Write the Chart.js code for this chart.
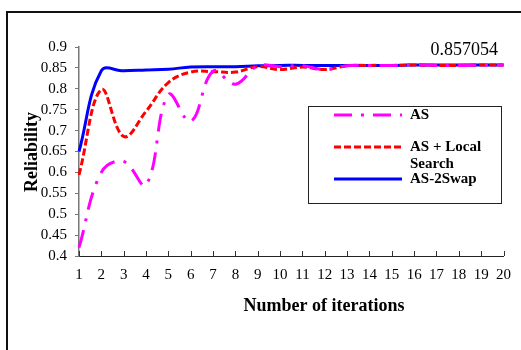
<!DOCTYPE html>
<html>
<head>
<meta charset="utf-8">
<script src="https://cdn.jsdelivr.net/npm/chart.js@4/dist/chart.umd.min.js"></script>
<style>
html,body{margin:0;padding:0;background:#fff;}
#wrap{width:521px;height:350px;position:relative;}
</style>
</head>
<body>
<div id="wrap"><canvas id="c" width="521" height="350"></canvas></div>
<script>
const iterations = ['1','2','3','4','5','6','7','8','9','10','11','12','13','14','15','16','17','18','19','20'];
const asValues = [0.42,0.60,0.626,0.57,0.786,0.722,0.842,0.811,0.855,0.853,0.855,0.846,0.855,0.856,0.856,0.858,0.856,0.856,0.857,0.857];
const asLocalValues = [0.594,0.798,0.686,0.746,0.815,0.840,0.841,0.840,0.853,0.846,0.852,0.846,0.855,0.856,0.856,0.857,0.856,0.856,0.857,0.857];
const as2SwapValues = [0.65,0.843,0.843,0.845,0.847,0.852,0.853,0.853,0.855,0.856,0.856,0.856,0.856,0.856,0.856,0.857,0.857,0.857,0.857,0.857054];
const seriesNames = ['AS','AS + Local Search','AS-2Swap'];
const finalLabel = '0.857054';
const xTitle = 'Number of iterations';
const yTitle = 'Reliability';

const SERIF = '"Liberation Serif", "Times New Roman", serif';

const decor = {
  id: 'decor',
  beforeDraw(chart) {
    const ctx = chart.ctx;
    ctx.save();
    ctx.fillStyle = '#fff';
    ctx.fillRect(0, 0, chart.width, chart.height);
    ctx.restore();
  },
  afterDraw(chart) {
    const ctx = chart.ctx;
    const xs = chart.scales.x, ys = chart.scales.y;
    ctx.save();
    ctx.strokeStyle = '#111';
    ctx.lineWidth = 2;
    ctx.strokeRect(7, 12, 700, 500);
    ctx.strokeStyle = '#333';
    ctx.lineWidth = 1;
    for (let i = 0; i < iterations.length; i++) {
      const px = Math.round(xs.getPixelForValue(i)) + 0.5;
      ctx.beginPath();
      ctx.moveTo(px, ys.bottom);
      ctx.lineTo(px, ys.bottom - 5);
      ctx.stroke();
    }
    ctx.fillStyle = '#000';
    ctx.font = 'bold 18px ' + SERIF;
    ctx.textAlign = 'center';
    ctx.textBaseline = 'middle';
    ctx.fillText(xTitle, 324, 306);
    ctx.save();
    ctx.translate(32, 152);
    ctx.rotate(-Math.PI / 2);
    ctx.fillText(yTitle, 0, 0);
    ctx.restore();
    ctx.font = '18px ' + SERIF;
    ctx.textAlign = 'right';
    ctx.fillText(finalLabel, 498, 50);
    ctx.strokeStyle = '#222';
    ctx.lineWidth = 1;
    ctx.strokeRect(308.5, 106.5, 193, 97);
    const rows = [115, 147, 179];
    ctx.font = 'bold 15px ' + SERIF;
    ctx.textAlign = 'left';
    chart.data.datasets.forEach((ds, i) => {
      const y = rows[i];
      ctx.save();
      ctx.strokeStyle = ds.borderColor;
      ctx.lineWidth = ds.borderWidth;
      ctx.setLineDash(ds.borderDash || []);
      ctx.beginPath();
      ctx.moveTo(334, y);
      ctx.lineTo(402, y);
      ctx.stroke();
      ctx.restore();
      const words = ds.label.split(' ');
      const lines = [];
      let cur = '';
      words.forEach(w => {
        const t = cur ? cur + ' ' + w : w;
        if (ctx.measureText(t).width > 80 && cur) { lines.push(cur); cur = w; } else cur = t;
      });
      lines.push(cur);
      lines.forEach((ln, k) => ctx.fillText(ln, 410, y + k * 17));
    });
    ctx.restore();
  }
};

new Chart(document.getElementById('c'), {
  type: 'line',
  data: {
    labels: iterations,
    datasets: [
      { label: seriesNames[0], data: asValues, borderColor: '#ff00ff', borderWidth: 3, borderDash: [18, 9, 3, 9], pointRadius: 0, tension: 0.4, fill: false },
      { label: seriesNames[1], data: asLocalValues, borderColor: '#ff0000', borderWidth: 3, borderDash: [7, 3], pointRadius: 0, tension: 0.4, fill: false },
      { label: seriesNames[2], data: as2SwapValues, borderColor: '#0000ff', borderWidth: 3, borderDash: [], pointRadius: 0, tension: 0.4, fill: false }
    ]
  },
  options: {
    responsive: false,
    animation: false,
    events: [],
    layout: { padding: { left: 0, top: 47, right: 17, bottom: 0 } },
    plugins: { legend: { display: false }, tooltip: { enabled: false }, title: { display: false } },
    scales: {
      x: {
        type: 'category',
        offset: false,
        grid: { display: true, drawOnChartArea: false, drawTicks: false },
        border: { display: true, color: '#222', width: 1 },
        ticks: { color: '#000', font: { family: SERIF, size: 15 }, padding: 10, maxRotation: 0, autoSkip: false },
        afterFit(s) { s.height = 94; }
      },
      y: {
        min: 0.4, max: 0.9,
        grid: { display: true, drawOnChartArea: false, drawTicks: true, tickLength: 4, color: '#777' },
        border: { display: true, color: '#777', width: 1.5 },
        ticks: { stepSize: 0.05, autoSkip: false, color: '#000', font: { family: SERIF, size: 15 }, padding: 8,
          callback: v => String(Math.round(v * 100) / 100) },
        afterFit(s) { s.width = 79; }
      }
    }
  },
  plugins: [decor]
});
</script>
</body>
</html>
